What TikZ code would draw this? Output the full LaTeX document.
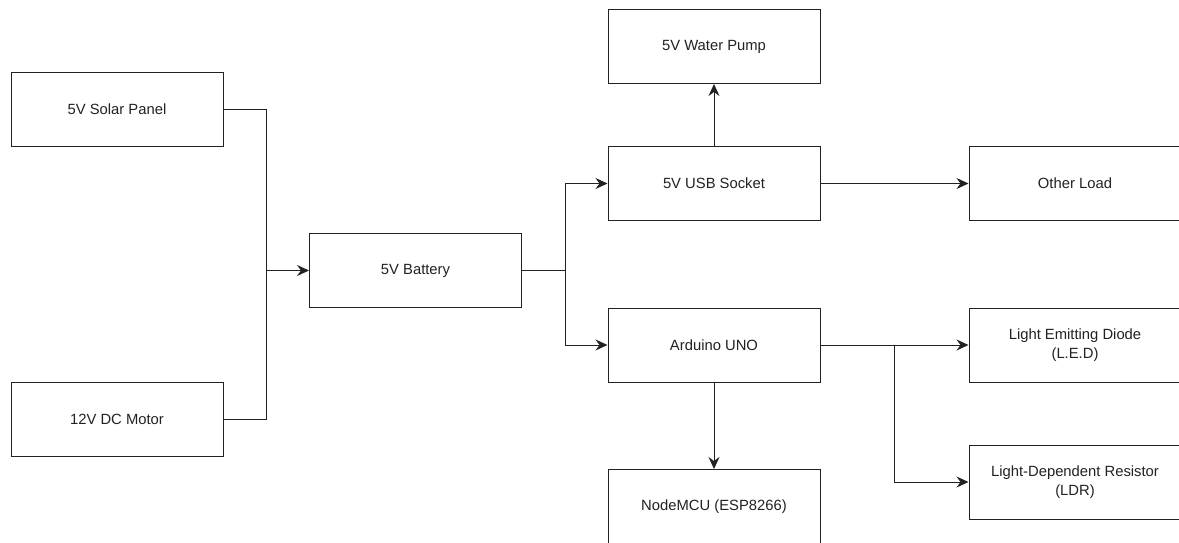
\documentclass[tikz,border=0pt]{standalone}
\usepackage{fontspec}
\setmainfont{Liberation Sans}
\usetikzlibrary{arrows.meta}
\definecolor{linegray}{HTML}{222222}
\begin{document}
\begin{tikzpicture}[x=1pt,y=-1pt,
  blockbox/.style={draw=linegray,line width=1pt,fill=white,minimum width=212pt,minimum height=74pt,inner sep=0pt,align=center,text=linegray,font=\fontsize{14.8}{18.5}\selectfont},
  conn/.style={draw=linegray,line width=1pt},
  arr/.style={conn,-{Stealth[length=12pt,width=11pt,inset=4pt]}}]
\useasboundingbox (0,0) rectangle (1179,542);
\clip (0,0) rectangle (1179,542);
\node[blockbox] (solar) at (117,109) {5V Solar Panel};
\node[blockbox] (motor) at (117,419.5) {12V DC Motor};
\node[blockbox] (battery) at (415.5,270.5) {5V Battery};
\node[blockbox] (pump) at (714,46.5) {5V Water Pump};
\node[blockbox] (usb) at (714,183.5) {5V USB Socket};
\node[blockbox] (arduino) at (714,345) {Arduino UNO};
\node[blockbox] (nodemcu) at (714,506.5) {NodeMCU (ESP8266)};
\node[blockbox] (other) at (1075,183.5) {Other Load};
\node[blockbox] (led) at (1075,345) {Light Emitting Diode\\(L.E.D)};
\node[blockbox] (ldr) at (1075,482) {Light-Dependent Resistor\\(LDR)};
\coordinate (j1) at (266.5,270.5);
\coordinate (j2) at (565,270.5);
\coordinate (j3) at (894,345);
\draw[conn] (solar.east) -| (j1);
\draw[conn] (motor.east) -| (j1);
\draw[arr] (j1) -- (battery.west);
\draw[conn] (battery.east) -- (j2);
\draw[arr] (j2) |- (usb.west);
\draw[arr] (j2) |- (arduino.west);
\draw[arr] (usb.north) -- (pump.south);
\draw[arr] (usb.east) -- (other.west);
\draw[arr] (arduino.east) -- (led.west);
\draw[arr] (j3) |- (ldr.west);
\draw[arr] (arduino.south) -- (nodemcu.north);
\end{tikzpicture}
\end{document}
